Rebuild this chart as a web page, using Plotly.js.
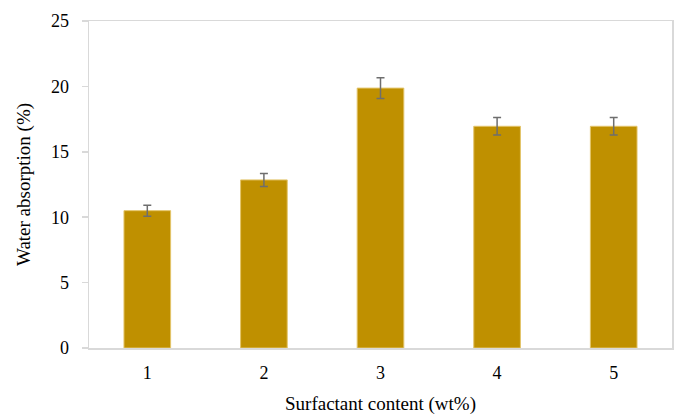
<!DOCTYPE html>
<html>
<head>
<meta charset="utf-8">
<script src="https://cdn.plot.ly/plotly-3.0.1.min.js"></script>
<style>html,body{margin:0;padding:0;background:#fff;}#chart{width:676px;height:416px;}</style>
</head>
<body>
<div id="chart"></div>
<script>
const categories = ['1', '2', '3', '4', '5'];
const waterAbsorption = [10.5, 12.85, 19.87, 16.95, 16.95];
const errors = [0.42, 0.5, 0.8, 0.67, 0.67];
const yTicks = [0, 5, 10, 15, 20, 25];

const font = 'Liberation Serif';

Plotly.newPlot('chart', [{
  type: 'bar',
  x: categories,
  y: waterAbsorption,
  marker: {color: '#bf9000', line: {color: '#e3c469', width: 1}},
  error_y: {type: 'data', array: errors, visible: true, color: '#6e6e6e', thickness: 1.5, width: 4},
  hoverinfo: 'none'
}], {
  width: 676, height: 416,
  margin: {l: 89, r: 4, t: 21, b: 68},
  paper_bgcolor: '#fff', plot_bgcolor: '#fff',
  bargap: 0.6,
  showlegend: false,
  font: {family: font, size: 18, color: '#000'},
  xaxis: {
    type: 'category',
    showline: true, linecolor: '#d9d9d9', linewidth: 1.5, mirror: true,
    ticks: '', showgrid: false, zeroline: false,
    ticklabelstandoff: 8,
    tickfont: {family: font, size: 18, color: '#000'},
    title: {text: 'Surfactant content (wt%)', font: {family: font, size: 19, color: '#000'}, standoff: 14}
  },
  yaxis: {
    range: [0, 25], tickvals: yTicks, ticktext: yTicks.map(String),
    showline: true, linecolor: '#d9d9d9', linewidth: 1.5, mirror: true,
    ticks: 'outside', ticklen: 6, tickcolor: '#d9d9d9', tickwidth: 1.5,
    showgrid: false, zeroline: false,
    ticklabelstandoff: 9,
    tickfont: {family: font, size: 18, color: '#000'},
    title: {text: 'Water absorption (%)', font: {family: font, size: 19, color: '#000'}, standoff: 15}
  }
}, {staticPlot: true});
</script>
</body>
</html>
